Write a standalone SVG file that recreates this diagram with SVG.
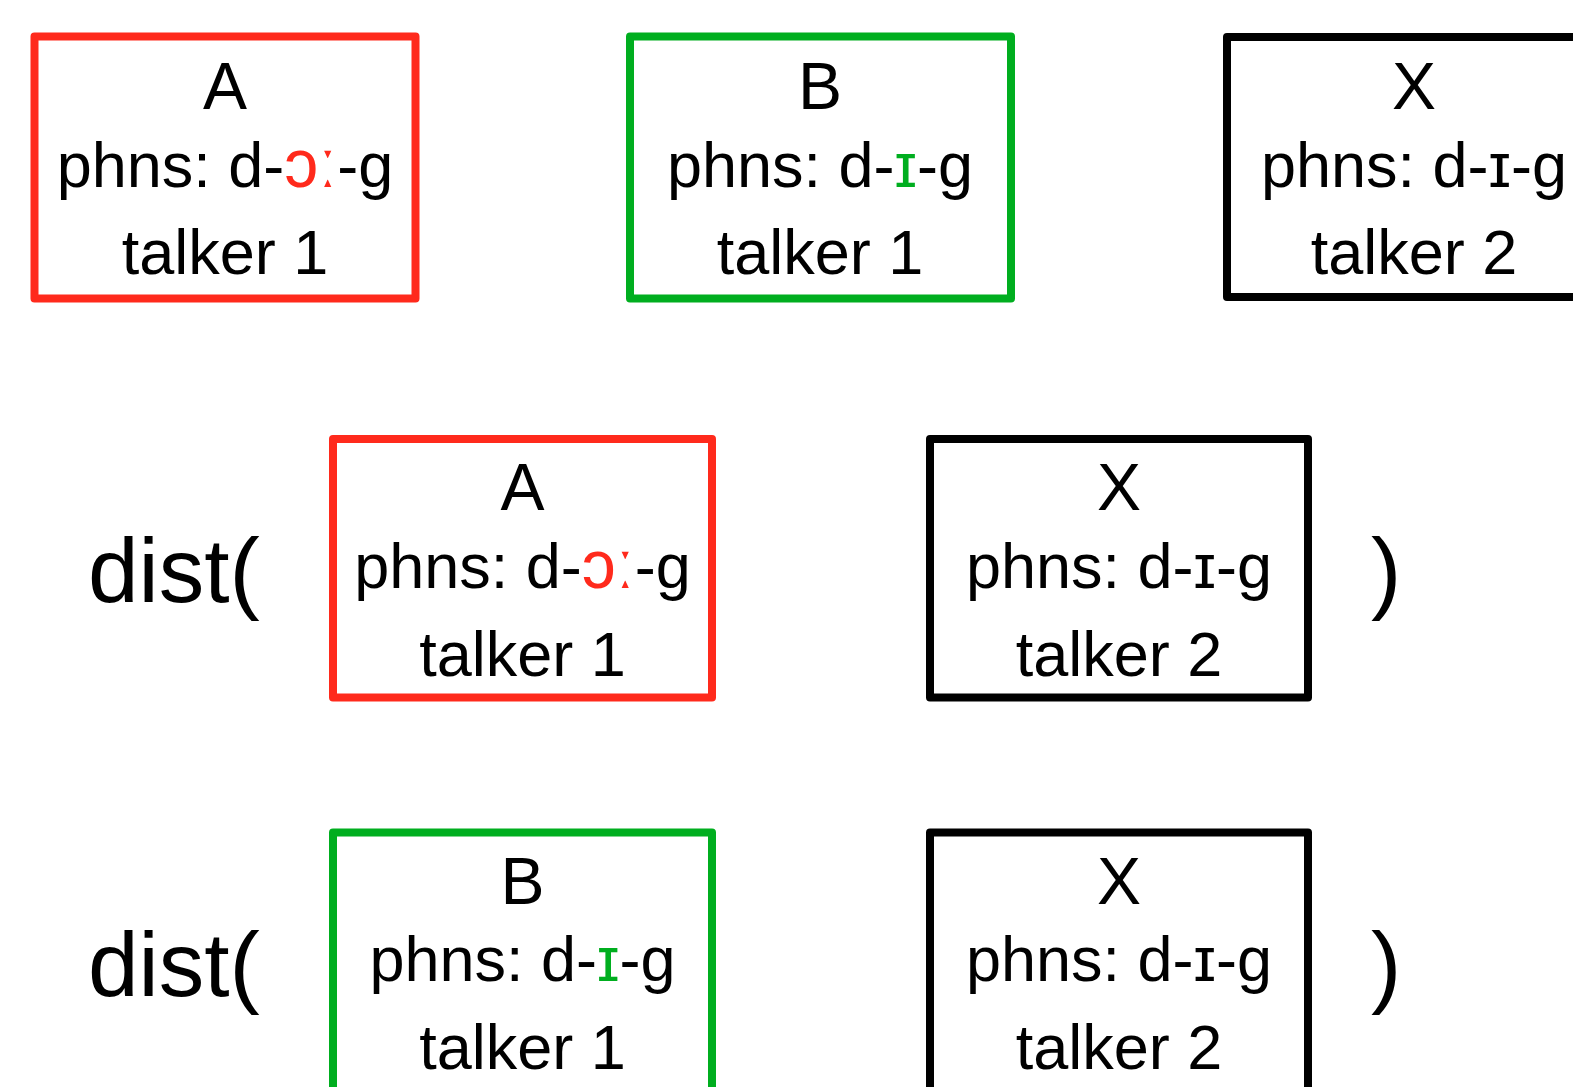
<svg xmlns="http://www.w3.org/2000/svg" width="1573" height="1087" viewBox="0 0 1573 1087">
  <style>
    .box { fill: #ffffff; stroke-width: 8; stroke-linejoin: round; }
    .red { stroke: #FF2A1C; }
    .green { stroke: #00AE1F; }
    .black { stroke: #000000; }
    text { font-family: "Liberation Sans", Arial, Helvetica, sans-serif; fill: #000000; }
    .title { font-size: 66px; text-anchor: middle; }
    .line { font-size: 63px; text-anchor: middle; }
    .dist { font-size: 91px; }
    .r { fill: #FF2A1C; }
    .ipa { font-size: 68px; }
    .g { fill: #00AE1F; }
  </style>
  <rect width="1573" height="1087" fill="#ffffff"/>
  <g id="connectors"></g>

  <!-- Row 1 -->
  <g id="node-A1">
    <rect class="box red" x="34.5" y="36.5" width="381" height="262"/>
    <text class="title" x="225" y="109">A</text>
    <text class="line" x="225" y="187">phns: d-<tspan class="r ipa">ɔː</tspan>-g</text>
    <text class="line" x="225" y="274">talker 1</text>
  </g>
  <g id="node-B1">
    <rect class="box green" x="630" y="36.5" width="381" height="262"/>
    <text class="title" x="820" y="109">B</text>
    <text class="line" x="820" y="187">phns: d-<tspan class="g">ɪ</tspan>-g</text>
    <text class="line" x="820" y="274">talker 1</text>
  </g>
  <g id="node-X1">
    <rect class="box black" x="1227" y="37" width="381" height="260"/>
    <text class="title" x="1414" y="109">X</text>
    <text class="line" x="1414" y="187">phns: d-ɪ-g</text>
    <text class="line" x="1414" y="274">talker 2</text>
  </g>

  <!-- Row 2 -->
  <g id="dist-row2">
    <text class="dist" x="88" y="602">dist(</text>
    <text class="dist" x="1371" y="602">)</text>
  </g>
  <g id="node-A2">
    <rect class="box red" x="333" y="439" width="379" height="258.5"/>
    <text class="title" x="522.5" y="510">A</text>
    <text class="line" x="522.5" y="588">phns: d-<tspan class="r ipa">ɔː</tspan>-g</text>
    <text class="line" x="522.5" y="676">talker 1</text>
  </g>
  <g id="node-X2">
    <rect class="box black" x="930" y="439" width="378" height="258.5"/>
    <text class="title" x="1119" y="510">X</text>
    <text class="line" x="1119" y="588">phns: d-ɪ-g</text>
    <text class="line" x="1119" y="676">talker 2</text>
  </g>

  <!-- Row 3 -->
  <g id="dist-row3">
    <text class="dist" x="88" y="996">dist(</text>
    <text class="dist" x="1371" y="996">)</text>
  </g>
  <g id="node-B3">
    <rect class="box green" x="333" y="832.5" width="379" height="262"/>
    <text class="title" x="522.5" y="904">B</text>
    <text class="line" x="522.5" y="981">phns: d-<tspan class="g">ɪ</tspan>-g</text>
    <text class="line" x="522.5" y="1069">talker 1</text>
  </g>
  <g id="node-X3">
    <rect class="box black" x="930" y="832.5" width="378" height="262"/>
    <text class="title" x="1119" y="904">X</text>
    <text class="line" x="1119" y="981">phns: d-ɪ-g</text>
    <text class="line" x="1119" y="1069">talker 2</text>
  </g>
</svg>
